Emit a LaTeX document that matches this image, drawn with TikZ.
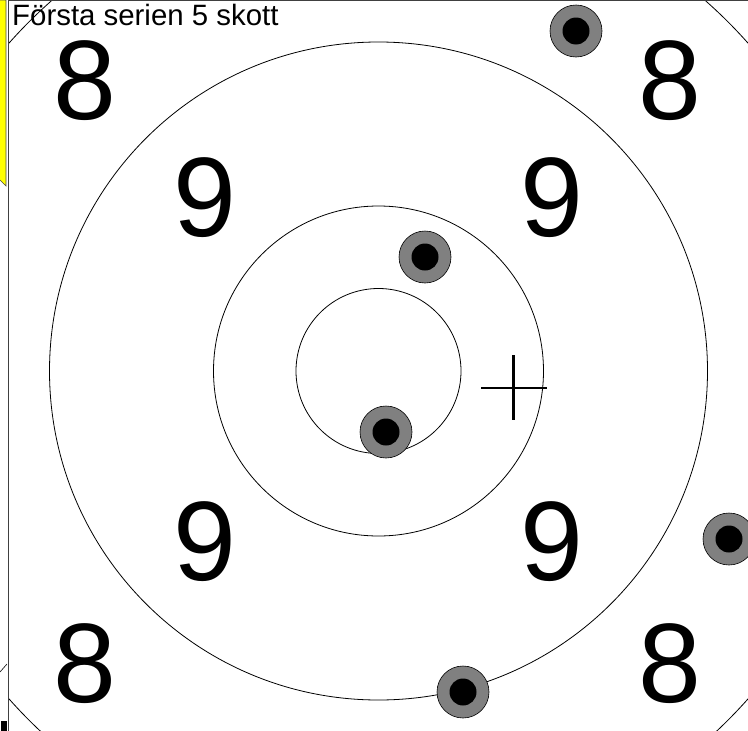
\documentclass[tikz,border=0pt]{standalone}
\usepackage{fontspec}
\setmainfont{Liberation Sans}
\usepackage{tikz}
\usetikzlibrary{positioning}
\definecolor{gulpanel}{RGB}{255,255,0}
\definecolor{traffgra}{RGB}{128,128,128}

\begin{document}
\begin{tikzpicture}[x=1pt, y=-1pt,
    ring/.style={draw=black, line width=0.8pt},
    ram/.style={draw=black!75, line width=1.4pt},
    siffra/.style={inner sep=0pt, font=\fontsize{113}{113}\selectfont},
    rubrikstil/.style={anchor=base west, inner sep=0pt, font=\fontsize{29.4}{29.4}\selectfont},
    traff/.style={circle, draw=black, line width=0.6pt, fill=traffgra, minimum size=52pt, inner sep=0pt},
    kula/.style={circle, fill=black, minimum size=27pt, inner sep=0pt},
    kors/.style={line width=2.8pt}]
    \useasboundingbox (0,0) rectangle (748,731);
    \fill[white] (0,0) rectangle (748,731);
    \filldraw[fill=gulpanel, draw=black!70, line width=0.6pt] (0,0) -- (6,0) -- (6,186) -- (0,180);
    \draw[ram] (8.2,0) -- (8.2,731);
    \draw[ram] (8.2,0.6) -- (748,0.6);
    \fill[black] (1,721) rectangle (7,731);
    \draw[line width=0.6pt] (0,672) -- (7,664);
    \node[rubrikstil] (rubrik) at (12,25) {Första serien 5 skott};
    \node[siffra] (atta1) at (85,81) {8};
    \node[siffra] (atta2) at (670,81) {8};
    \node[siffra] (atta3) at (85,664) {8};
    \node[siffra] (atta4) at (670,664) {8};
    \node[siffra] (nia1) at (205,198) {9};
    \node[siffra] (nia2) at (552,198) {9};
    \node[siffra] (nia3) at (205,542) {9};
    \node[siffra] (nia4) at (552,542) {9};
    \coordinate (mitt) at (378.5,371);
    \begin{scope}
      \clip (9,1) rectangle (748,731);
      \draw[ring] (mitt) circle (82.5);
      \draw[ring] (mitt) circle (165);
      \draw[ring] (mitt) circle (329);
      \draw[ring] (mitt) circle (494);
    \end{scope}
    \draw[kors] (481,388) -- (547,388);
    \draw[kors] (513.5,355) -- (513.5,420);
    \node[traff] (t1) at (576,31) {};
    \node[kula] (k1) at (t1) {};
    \node[traff] (t2) at (425,257) {};
    \node[kula] (k2) at (t2) {};
    \node[traff] (t3) at (386,432) {};
    \node[kula] (k3) at (t3) {};
    \node[traff] (t4) at (729,539) {};
    \node[kula] (k4) at (t4) {};
    \node[traff] (t5) at (463,692) {};
    \node[kula] (k5) at (t5) {};
  \end{tikzpicture}
\end{document}
